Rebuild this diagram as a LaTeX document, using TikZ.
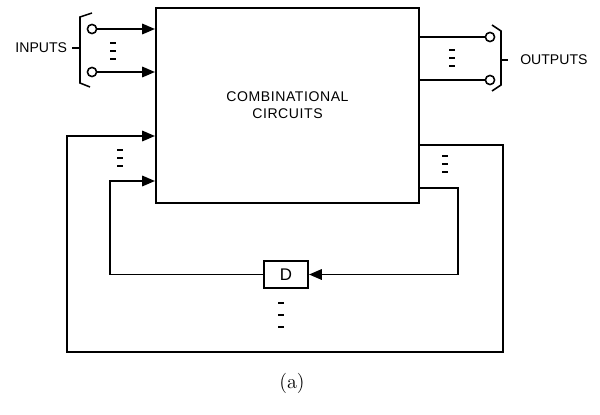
\documentclass[tikz,border=0pt]{standalone}
\usepackage{fontspec}
\setsansfont{Liberation Sans}
\usetikzlibrary{arrows.meta,positioning,calc}
\tikzset{
  wire/.style={line width=1.4pt},
  feed/.style={wire, -{Triangle[length=3.2mm,width=2.6mm]}},
  brk/.style={line width=1.1pt},
  term/.style={circle, draw, line width=1.1pt, fill=white, minimum size=2.3mm, inner sep=0pt},
  block/.style={draw, line width=1.4pt, inner sep=0pt, font=\sffamily, align=center},
  lbl/.style={font=\sffamily},
  pics/vdots/.style={code={\foreach \k in {0,1,2} \draw[line width=1.1pt] (-3,\k*#1) -- (3,\k*#1);}},
  pics/vdots/.default=8,
}
\begin{document}
\begin{tikzpicture}[x=0.025cm, y=-0.025cm]
  \useasboundingbox (0,0) rectangle (600,415);
  % blocks
  \node[block, minimum width=6.575cm, minimum height=4.875cm] (cc) at (287.5,105.5) {\addfontfeature{LetterSpace=4}COMBINATIONAL\\\addfontfeature{LetterSpace=4}CIRCUITS};
  \node[block, minimum width=1.1cm, minimum height=0.675cm, font=\sffamily\large] (dly) at (286,274.5) {D};
  % terminals
  \node[term] (in1) at (92,29) {};
  \node[term] (in2) at (92,72) {};
  \node[term] (out1) at (490,37) {};
  \node[term] (out2) at (490,80) {};
  \node[lbl, anchor=east] (inl) at (72,48) {INPUTS};
  \node[lbl, anchor=west, inner xsep=0.3cm] (outl) at (508,60) {OUTPUTS};
  \node[font=\Large] (cap) at (292,383) {(a)};
  % inputs and outputs
  \draw[feed] (in1) -- (in1 -| cc.west);
  \draw[feed] (in2) -- (in2 -| cc.west);
  \draw[wire] (out1 -| cc.east) -- (out1);
  \draw[wire] (out2 -| cc.east) -- (out2);
  \draw[brk] (92,13) -- (80,17) -- (80,83) -- (90,87);
  \draw[brk] (inl.east) -- (80,48);
  \draw[brk] (492,25) -- (501,31) -- (501,85) -- (492,91);
  \draw[brk] (501,60) -- (outl.west);
  % feedback loops
  \coordinate (fbR) at (503,145);
  \coordinate (fbB) at (67,352);
  \coordinate (fbL) at (67,136);
  \coordinate (iR) at (458,188);
  \coordinate (iL) at (110,181);
  \draw[feed] (cc.east |- fbR) -- (fbR) |- (fbB) -- (fbL) -- (cc.west |- fbL);
  \draw[feed] (cc.east |- iR) -- (iR) |- (dly.east);
  \draw[feed] (dly.west) -| (iL) -- (cc.west |- iL);
  % line dots
  \pic at (113,43) {vdots};
  \pic at (120,150) {vdots};
  \pic at (452,50) {vdots};
  \pic at (445,156) {vdots};
  \pic at (281,303) {vdots=12};
\end{tikzpicture}
\end{document}
